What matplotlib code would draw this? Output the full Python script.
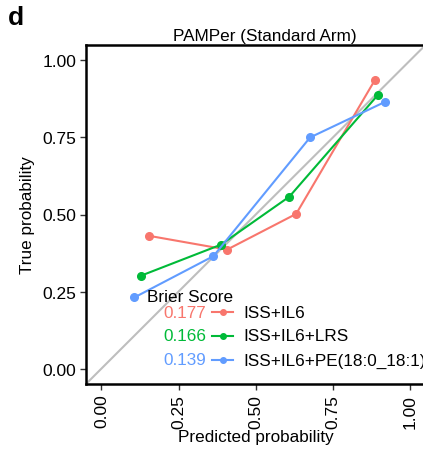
import matplotlib
matplotlib.use("Agg")
import matplotlib.pyplot as plt

plt.rcParams["font.family"] = ["Liberation Sans", "DejaVu Sans"]

models = ["ISS+IL6", "ISS+IL6+LRS", "ISS+IL6+PE(18:0_18:1)"]
colors = ["#F8766D", "#00BA38", "#619CFF"]
brier = ["0.177", "0.166", "0.139"]
pred_iss_il6 = [0.153, 0.407, 0.631, 0.887]
true_iss_il6 = [0.431, 0.386, 0.502, 0.938]
pred_lrs = [0.127, 0.387, 0.609, 0.895]
true_lrs = [0.301, 0.402, 0.558, 0.887]
pred_pe = [0.107, 0.363, 0.676, 0.920]
true_pe = [0.231, 0.365, 0.750, 0.866]
ticks = [0.0, 0.25, 0.5, 0.75, 1.0]
tick_labels = ["0.00", "0.25", "0.50", "0.75", "1.00"]

FS = 12.3
W, H = 423, 452
fig = plt.figure(figsize=(W / 100, H / 100), dpi=100)
left, right, top, bottom = 86, 425.5, 46, 385
ax = fig.add_axes([left / W, 1 - bottom / H, (right - left) / W, (bottom - top) / H])
ax.set_xlim(-0.05, 1.05)
ax.set_ylim(-0.05, 1.05)

ax.plot([-0.05, 1.05], [-0.05, 1.05], color="#BEBEBE", lw=1.5, zorder=1)

series = [(pred_iss_il6, true_iss_il6), (pred_lrs, true_lrs), (pred_pe, true_pe)]
for (xs, ys), c in zip(series, colors):
    ax.plot(xs, ys, color=c, lw=1.5, marker="o", ms=5.5, zorder=3)

for s in ax.spines.values():
    s.set_linewidth(1.8)
    s.set_color("black")

ax.set_xticks(ticks)
ax.set_xticklabels(tick_labels, rotation=90)
ax.set_yticks(ticks)
ax.set_yticklabels(tick_labels)
ax.tick_params(direction="out", length=4, width=1, color="#333333",
               labelsize=12.5, labelcolor="black", pad=3)

ax.set_xlabel("Predicted probability", fontsize=FS, labelpad=1)
ax.set_ylabel("True probability", fontsize=FS, labelpad=5)
fig.text(265 / W, 1 - 37 / H, "PAMPer (Standard Arm)", ha="center", va="center", fontsize=FS)
fig.text(8 / W, 1 - 18 / H, "d", ha="left", va="center", fontsize=19, fontweight="bold")

# legenda manual com os Brier scores
fig.text(147 / W, 1 - 298 / H, "Brier Score", ha="left", va="center", fontsize=FS)
rows_y = [313, 337, 361]
for y, c, b, m in zip(rows_y, colors, brier, models):
    yf = 1 - y / H
    fig.text(206 / W, yf, b, ha="right", va="center", fontsize=FS, color=c)
    fig.add_artist(plt.Line2D([212 / W, 233 / W], [yf, yf], color=c, lw=1.5))
    fig.add_artist(plt.Line2D([222.5 / W], [yf], color=c, marker="o", ms=4))
    fig.text(243 / W, yf, m, ha="left", va="center", fontsize=FS, color="black")

fig.savefig("out.png", dpi=100)
